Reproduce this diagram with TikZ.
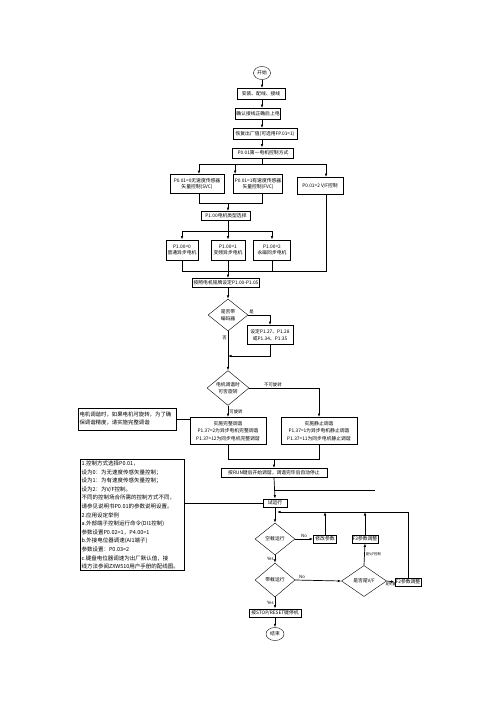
\documentclass[tikz,border=0pt]{standalone}
\usepackage{fontspec}
\setmainfont{Noto Sans CJK SC}
\usetikzlibrary{shapes.geometric,arrows.meta}

\tikzset{
  box/.style={draw, line width=0.8pt, inner sep=0.8pt, align=center, font=\fontsize{4.8}{6.4}\selectfont},
  decide/.style={draw, diamond, line width=0.4pt, inner sep=0pt, align=center, font=\fontsize{4.8}{6.4}\selectfont},
  term/.style={draw, ellipse, line width=0.4pt, inner sep=0pt, font=\fontsize{4.8}{6}\selectfont},
  notebox/.style={draw, line width=0.8pt, align=left, inner sep=1.5pt},
  lbl/.style={font=\fontsize{4.4}{5}\selectfont, inner sep=1pt},
  smalllbl/.style={font=\fontsize{3.4}{4}\selectfont, inner sep=1pt},
}

\begin{document}
\begin{tikzpicture}[x=1pt, y=-1pt, line width=0.7pt, >={Latex[length=3.5pt,width=2.6pt]}]
\useasboundingbox (0,0) rectangle (496,702);

\node[term, minimum width=17, minimum height=13] (start) at (262,73) {开始};
\node[box, minimum width=48, minimum height=11] (install) at (261,94) {安装、配线、接线};
\node[box, minimum width=44, minimum height=11] (power) at (258,114) {确认接线正确后上电};
\node[box, minimum width=64, minimum height=11] (reset) at (265,134) {恢复出厂值(可选用FP.01=1)};
\node[box, minimum width=61, minimum height=10] (ctrl) at (263,153) {P0.01第一电机控制方式};

\node[box, minimum width=54, minimum height=19] (svc) at (197,184) {P0.01=0无速度传感器\\矢量控制(SVC)};
\node[box, minimum width=49, minimum height=19] (fvc) at (258,184) {P0.01=1有速度传感器\\矢量控制(FVC)};
\node[box, minimum width=46, minimum height=17] (vf) at (320,186) {P0.01=2 V/F控制};

\node[box, minimum width=49, minimum height=9] (mtype) at (226,216) {P1.00电机类型选择};
\node[box, minimum width=32, minimum height=20] (m0) at (182,250) {P1.00=0\\普通异步电机};
\node[box, minimum width=34, minimum height=20] (m1) at (228,250) {P1.00=1\\变频异步电机};
\node[box, minimum width=37, minimum height=20] (m2) at (272,250) {P1.00=2\\永磁同步电机};

\node[box, minimum width=67, minimum height=9] (plate) at (226,283) {按照电机铭牌设定P1.00-P1.05};
\node[decide, minimum width=40, minimum height=32] (enc) at (228,315) {是否带\\编码器};
\node[box, minimum width=46, minimum height=19] (encset) at (270,335) {设定P1.27、P1.28\\或P1.34、P1.35};

\node[decide, minimum width=42, minimum height=34] (rot) at (228,388) {电机调谐时\\可否旋转};
\node[box, minimum width=76, minimum height=27, font=\fontsize{4.8}{7.4}\selectfont] (full) at (228,431) {实施完整调谐\\P1.37=2为异步电机完整调谐\\P1.37=12为同步电机完整调谐};
\node[box, minimum width=76, minimum height=27, font=\fontsize{4.8}{7.4}\selectfont] (still) at (319,431) {实施静止调谐\\P1.37=1为异步电机静止调谐\\P1.37=11为同步电机静止调谐};
\node[notebox, text width=95, minimum height=22, font=\fontsize{5.4}{8}\selectfont] (tip) at (127,419) {电机调谐时，如果电机可旋转，为了确\\保调谐精度，请实施完整调谐};
\node[box, minimum width=106, minimum height=9] (run) at (274,473) {按RUN键后开始调谐，调谐完毕后自动停止};

\node[notebox, text width=101, font=\fontsize{5.5}{8.6}\selectfont] (note) at (132,515) {1.控制方式选择P0.01，\\设为0：为无速度传感矢量控制；\\设为1：为有速度传感矢量控制；\\设为2：为V/F控制。\\不同的控制场合所需的控制方式不同，\\请参见说明书P0.01的参数说明设置。\\2.应用设定举例\\a.外部端子控制运行命令(DI1控制)\\参数设置P0.02=1，P4.00=1\\b.外接电位器调速(AI1端子)\\参数设置：P0.03=2\\c.键盘电位器调速为出厂默认值，接\\线方法参阅ZXW510用户手册的配线图。};

\node[box, minimum width=24, minimum height=8] (trial) at (275,503) {试运行};
\node[decide, minimum width=40, minimum height=32] (noload) at (275,539) {空载运行};
\node[box, minimum width=23, minimum height=8] (modify) at (325,539) {修改参数};
\node[decide, minimum width=40, minimum height=34] (load) at (275,580) {带载运行};
\node[decide, minimum width=45, minimum height=31] (isvf) at (364,581) {是否是V/F};
\node[box, minimum width=24, minimum height=8] (ftr) at (365,539) {F3参数调整};
\node[box, minimum width=23, minimum height=8] (ftw) at (408,582) {F2参数调整};
\node[box, minimum width=52, minimum height=8] (stop) at (275,613) {按STOP/RESET键停机};
\node[term, minimum width=18, minimum height=13] (end) at (275,634) {结束};

\coordinate (split) at (262,164);
\coordinate (j2) at (228,203);
\coordinate (j3) at (228,231);
\coordinate (j4) at (228,271);
\coordinate (j5) at (228,356);
\coordinate (j6) at (274,459);
\coordinate (stub) at (375,490);
\coordinate (back) at (277,512);

\draw[->] (start.south) -- (start.south |- install.north);
\draw[->] (install.south -| split) -- (power.north -| split);
\draw[->] (power.south -| split) -- (reset.north -| split);
\draw[->] (reset.south -| split) -- (ctrl.north -| split);

\draw (ctrl.south -| split) -- (split);
\draw ([xshift=2pt]svc.north |- split) -- ([xshift=6pt]vf.north |- split);
\draw[->] ([xshift=2pt]svc.north |- split) -- ([xshift=2pt]svc.north);
\draw[->] ([xshift=2pt]fvc.north west |- split) -- ([xshift=2pt]fvc.north west);
\draw[->] ([xshift=6pt]vf.north |- split) -- ([xshift=6pt]vf.north);

\draw ([xshift=2pt]svc.south) -- ([xshift=2pt]svc.south |- j2) -- ([xshift=4pt]fvc.south |- j2) -- ([xshift=4pt]fvc.south);
\draw[->] (j2) -- (j2 |- mtype.north);
\draw (mtype.south -| j3) -- (j3);
\draw (m0.north |- j3) -- (m2.north |- j3);
\draw[->] (m0.north |- j3) -- (m0.north);
\draw[->] (j3) -- (m1.north);
\draw[->] (m2.north |- j3) -- (m2.north);

\draw (m0.south) -- (m0.south |- j4) -- ([xshift=6pt]vf.south |- j4) -- ([xshift=6pt]vf.south);
\draw (m1.south) -- (j4);
\draw (m2.south) -- (m2.south |- j4);
\draw[->] (j4) -- (j4 |- plate.north);

\draw[->] (plate.south -| enc) -- (enc.north);
\draw[->] (enc.east) -| node[lbl, pos=0.08, above]{是} (encset.north);
\draw[->] (encset.south) |- (j5);
\draw[->] (enc.south) -- node[lbl, pos=0.18, left]{否} (rot.north);

\draw[->] (rot.east) -| node[lbl, pos=0.17, above]{不可旋转} (still.north);
\draw[->] (rot.south) -- node[lbl, right]{可旋转} (full.north);
\draw (tip.east) -- (tip.east -| full.west);

\draw (full.south) |- (still.south |- j6) -- (still.south);
\draw[->] (j6) -- (j6 |- run.north);
\draw[->] (run.south) -- (trial.north);
\draw (run.south |- stub) -- (stub);

\draw (note.east |- trial.west) -- (trial.west);
\draw[->] (trial.south) -- (noload.north);
\draw[->] (noload.east) -- node[lbl, above]{No} (modify.west);
\draw[->] (modify.north) -- (modify.north |- back);
\draw[->] (noload.south) -- node[lbl, left]{Yes} (load.north);
\draw[->] (load.east) -- node[lbl, pos=0.15, above]{No} (isvf.west);
\draw[->] (isvf.north) -- node[smalllbl, right]{是V/F控制} (ftr.south);
\draw[->] (ftr.north) -- (ftr.north |- back);
\draw[->] (isvf.east) -- node[smalllbl, below]{是矢量} (ftw.west);
\draw[->] (ftw.north) |- (back);
\draw[->] (load.south) -- node[lbl, left]{Yes} (stop.north);
\draw[->] (stop.south) -- (end.north);
\end{tikzpicture}
\end{document}
